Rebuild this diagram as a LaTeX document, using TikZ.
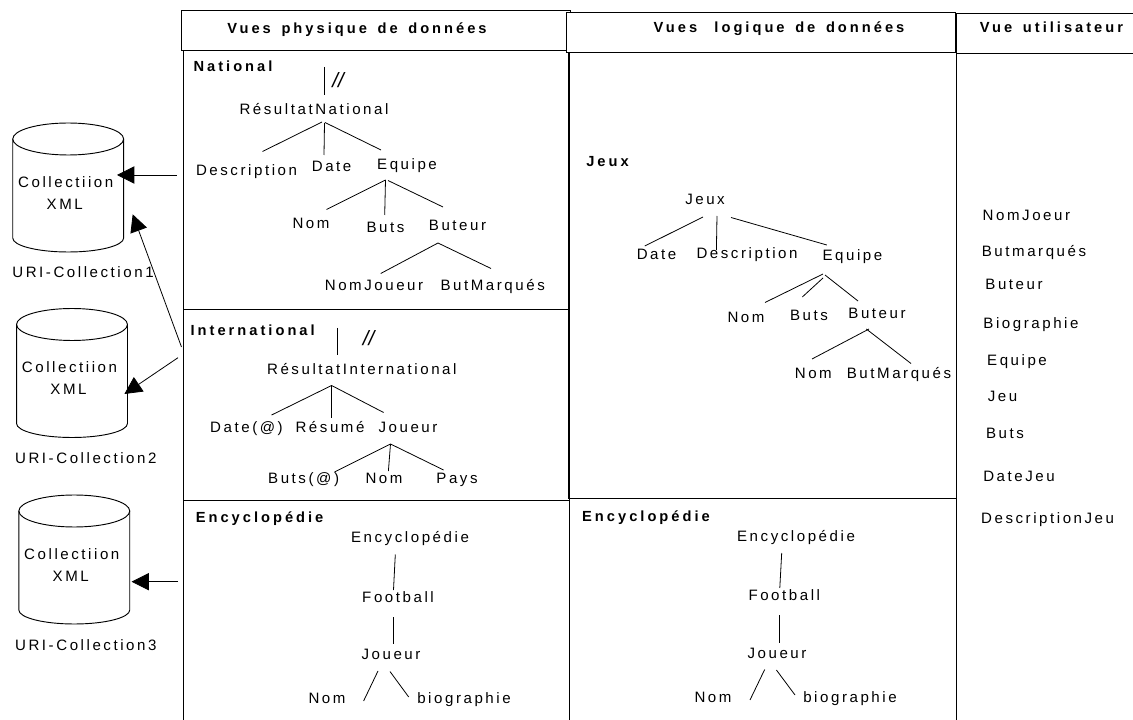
\documentclass[tikz,border=0pt]{standalone}
\usepackage{fontspec}
\setmainfont{Liberation Sans}
\newfontfamily\lblfont{Liberation Sans}[LetterSpace=17]
\newfontfamily\headfont{Liberation Sans}[LetterSpace=20.5,WordSpace=1.5]
\usetikzlibrary{arrows.meta}

\tikzset{
  txt/.style={inner sep=0pt, text height=8pt, text depth=0pt, font=\lblfont\fontsize{11.3pt}{13pt}\selectfont},
  head/.style={inner sep=0pt, text height=8pt, text depth=0pt, font=\headfont\bfseries\fontsize{11pt}{13pt}\selectfont},
  slash/.style={inner sep=0pt, font=\itshape\fontsize{15.5pt}{17pt}\selectfont},
  frame/.style={line width=0.7pt},
  branch/.style={line width=0.6pt},
  flow/.style={line width=0.6pt, -{Triangle[length=13pt,width=13pt]}}
}

\begin{document}
\begin{tikzpicture}[x=0.75pt, y=-0.75pt]
\useasboundingbox (0,0) rectangle (1133,720);

  % Cadres
\draw[frame] (181.5,10.5) rectangle (570,50);
\draw[frame] (183.5,50) rectangle (569,309);
\draw[frame] (183.5,309) rectangle (569,500);
\draw[frame] (183.5,500) -- (183.5,720);
\draw[frame,fill=white] (566,12.5) rectangle (955,52);
\draw[frame] (568,52) rectangle (956,498.5);
\draw[frame] (569.5,498.5) -- (569.5,720);
\draw[frame] (1133,13) -- (956.5,13) -- (956.5,720);
\draw[frame] (956.5,53) -- (1133,53);

\node[head] (hPhys) at (357,28) {Vues physique de données};
\node[head] (hLog) at (779,27) {Vues\hspace{5pt} logique de données};
\node[head] (hUser) at (1051.5,27) {Vue utilisateur};

  % Collections
\foreach \cx/\cy/\n/\ux/\uy in {68.2/139/1/83/272, 72/324.5/2/85.8/458, 74.3/511/3/85.8/645.5}{
  \draw[frame] (\cx,\cy) ellipse [x radius=41.6pt, y radius=12pt];
  \draw[frame] ([xshift=-41.6pt]\cx,\cy) -- ++(0,99)
     arc[start angle=180, end angle=360, x radius=41.6pt, y radius=10.5pt] -- ++(0,-99);
  \node[txt] (coll\n) at ({\cx-2.5},{\cy+43}) {Collectiion};
  \node[txt] (xml\n) at ({\cx-3.5},{\cy+65}) {XML};
  \node[txt] (uri\n) at (\ux,\uy) {URI-Collection\n};
}

\coordinate (natOut) at (176.5,175);
\coordinate (natIn) at (117,175);
\coordinate (intUp) at (181.5,347);
\coordinate (intUpIn) at (132.7,214.3);
\coordinate (intOut) at (178,357.7);
\coordinate (intIn) at (124.4,394);
\coordinate (encOut) at (178,581.7);
\coordinate (encIn) at (131.6,581.7);
\draw[flow] (natOut) -- (natIn);
\draw[flow] (intUp) -- (intUpIn);
\draw[flow] (intOut) -- (intIn);
\draw[flow] (encOut) -- (encIn);

  % National
\node[head] (lblNat) at (233,66) {National};
\node[slash] (slashNat) at (338,80) {//};
\node[txt] (resNat) at (314,109) {RésultatNational};
\node[txt] (descNat) at (246.5,170) {Description};
\node[txt] (dateNat) at (331.6,166) {Date};
\node[txt] (eqNat) at (407,164) {Equipe};
\node[txt] (nomNat) at (311,223) {Nom};
\node[txt] (butsNat) at (385.5,227) {Buts};
\node[txt] (buteurNat) at (457.5,225) {Buteur};
\node[txt] (nomJNat) at (374,285) {NomJoueur};
\node[txt] (butMNat) at (492.7,285) {ButMarqués};

\coordinate (natTop) at (324.4,67);
\draw[branch] (natTop) -- ([shift={(10.4,-14)}]resNat.center);
\draw[branch] ([shift={(8,13)}]resNat.center) -- ([shift={(16,-18.5)}]descNat.center);
\draw[branch] ([shift={(10.5,14)}]resNat.center) -- ([shift={(-7.6,-11)}]dateNat.center);
\draw[branch] ([shift={(11,13.5)}]resNat.center) -- ([shift={(-26,-14)}]eqNat.center);
\draw[branch] ([shift={(-21.5,16)}]eqNat.center) -- ([shift={(15.5,-13.5)}]nomNat.center);
\draw[branch] ([shift={(-21.5,16)}]eqNat.center) -- ([shift={(-0.8,-12)}]butsNat.center);
\draw[branch] ([shift={(-19,16.5)}]eqNat.center) -- ([shift={(-14.5,-18)}]buteurNat.center);
\draw[branch] ([shift={(-19.5,18)}]buteurNat.center) -- ([shift={(6.7,-11.5)}]nomJNat.center);
\draw[branch] ([shift={(-19.5,18)}]buteurNat.center) -- ([shift={(-1.7,-16.5)}]butMNat.center);

  % International
\node[head] (lblInt) at (252.7,330) {International};
\node[slash] (slashInt) at (368.7,337.7) {//};
\node[txt] (resInt) at (361.8,369) {RésultatInternational};
\node[txt] (dateInt) at (246.5,427) {Date(@)};
\node[txt] (resumeInt) at (330,427) {Résumé};
\node[txt] (jouInt) at (408,427) {Joueur};
\node[txt] (butsInt) at (303.6,478) {Buts(@)};
\node[txt] (nomInt) at (384,478) {Nom};
\node[txt] (paysInt) at (457,478) {Pays};

\coordinate (intTop) at (337,328);
\draw[branch] (intTop) -- ([shift={(-24.8,-13.5)}]resInt.center);
\draw[branch] ([shift={(-30.2,16.5)}]resInt.center) -- ([shift={(25.1,-12)}]dateInt.center);
\draw[branch] ([shift={(-30.2,16.5)}]resInt.center) -- ([shift={(1.6,-9)}]resumeInt.center);
\draw[branch] ([shift={(-30.2,16.5)}]resInt.center) -- ([shift={(-24.4,-14.5)}]jouInt.center);
\draw[branch] ([shift={(-17.5,17)}]jouInt.center) -- ([shift={(30.9,-6)}]butsInt.center);
\draw[branch] ([shift={(-17.5,17)}]jouInt.center) -- ([shift={(4.4,-7)}]nomInt.center);
\draw[branch] ([shift={(-17.5,17)}]jouInt.center) -- ([shift={(-13.4,-8)}]paysInt.center);

  % Encyclopedie (physique)
\node[head] (lblEnc) at (259.6,517) {Encyclopédie};
\node[txt] (encPhys) at (410,537) {Encyclopédie};
\node[txt] (footPhys) at (398,597) {Football};
\node[txt] (jouPhys) at (391,654) {Joueur};
\node[txt] (nomPhys) at (327,698.5) {Nom};
\node[txt] (bioPhys) at (464,698.5) {biographie};

\draw[branch] ([shift={(-14.7,17.5)}]encPhys.center) -- ([shift={(-4.5,-7)}]footPhys.center);
\draw[branch] ([shift={(-4.5,20)}]footPhys.center) -- ([shift={(2.5,-10)}]jouPhys.center);
\draw[branch] ([shift={(-13,17)}]jouPhys.center) -- ([shift={(36.6,2.5)}]nomPhys.center);
\draw[branch] ([shift={(-1,17.5)}]jouPhys.center) -- ([shift={(-55.3,-1.5)}]bioPhys.center);

  % Jeux
\node[head] (lblJeux) at (607.5,161) {Jeux};
\node[txt] (jeux) at (705,199) {Jeux};
\node[txt] (dateLog) at (656.5,254) {Date};
\node[txt] (descLog) at (747,253) {Description};
\node[txt] (eqLog) at (852.4,255) {Equipe};
\node[txt] (nomLog) at (746,317) {Nom};
\node[txt] (butsLog) at (809,315) {Buts};
\node[txt] (buteurLog) at (877,313) {Buteur};
\node[txt] (nomBLog) at (813.3,373) {Nom};
\node[txt] (butMLog) at (899,373) {ButMarqués};

\draw[branch] ([shift={(-2,18)}]jeux.center) -- ([shift={(-11.7,-8)}]dateLog.center);
\draw[branch] ([shift={(12,17)}]jeux.center) -- ([shift={(-30.6,-3)}]descLog.center);
\draw[branch] ([shift={(26,18.5)}]jeux.center) -- ([shift={(-25.6,-10)}]eqLog.center);
\draw[branch] ([shift={(-29.4,19)}]eqLog.center) -- ([shift={(19,-14.5)}]nomLog.center);
\draw[branch] ([shift={(-29.4,23)}]eqLog.center) -- ([shift={(-6.7,-18)}]butsLog.center);
\draw[branch] ([shift={(-27.4,20)}]eqLog.center) -- ([shift={(-19,-12)}]buteurLog.center);
\draw[branch] ([shift={(-8,16)}]buteurLog.center) -- ([shift={(-1.3,-14)}]nomBLog.center);
\draw[branch] ([shift={(-10.7,16)}]buteurLog.center) -- ([shift={(12,-9.5)}]butMLog.center);

  % Encyclopedie (logique)
\node[head] (lblEncL) at (646,515.7) {Encyclopédie};
\node[txt] (encLog) at (796,536) {Encyclopédie};
\node[txt] (footLog) at (784.3,595.5) {Football};
\node[txt] (jouLog) at (777,653) {Joueur};
\node[txt] (nomELog) at (713,696.7) {Nom};
\node[txt] (bioLog) at (850,697) {biographie};

\draw[branch] ([shift={(-14.3,17)}]encLog.center) -- ([shift={(-4.5,-7.5)}]footLog.center);
\draw[branch] ([shift={(-4.5,19.5)}]footLog.center) -- ([shift={(2.8,-10)}]jouLog.center);
\draw[branch] ([shift={(-12.3,16.5)}]jouLog.center) -- ([shift={(37,3.3)}]nomELog.center);
\draw[branch] ([shift={(-0.6,17)}]jouLog.center) -- ([shift={(-55,-2)}]bioLog.center);

  % Vue utilisateur
\node[txt] (uNomJ) at (1026.4,215) {NomJoeur};
\node[txt] (uButM) at (1034,251) {Butmarqués};
\node[txt] (uButeur) at (1014,284) {Buteur};
\node[txt] (uBio) at (1031,323.5) {Biographie};
\node[txt] (uEq) at (1017,360) {Equipe};
\node[txt] (uJeu) at (1002.5,395.7) {Jeu};
\node[txt] (uButs) at (1005,432.7) {Buts};
\node[txt] (uDate) at (1019,476) {DateJeu};
\node[txt] (uDesc) at (1047.6,518) {DescriptionJeu};
\end{tikzpicture}
\end{document}
